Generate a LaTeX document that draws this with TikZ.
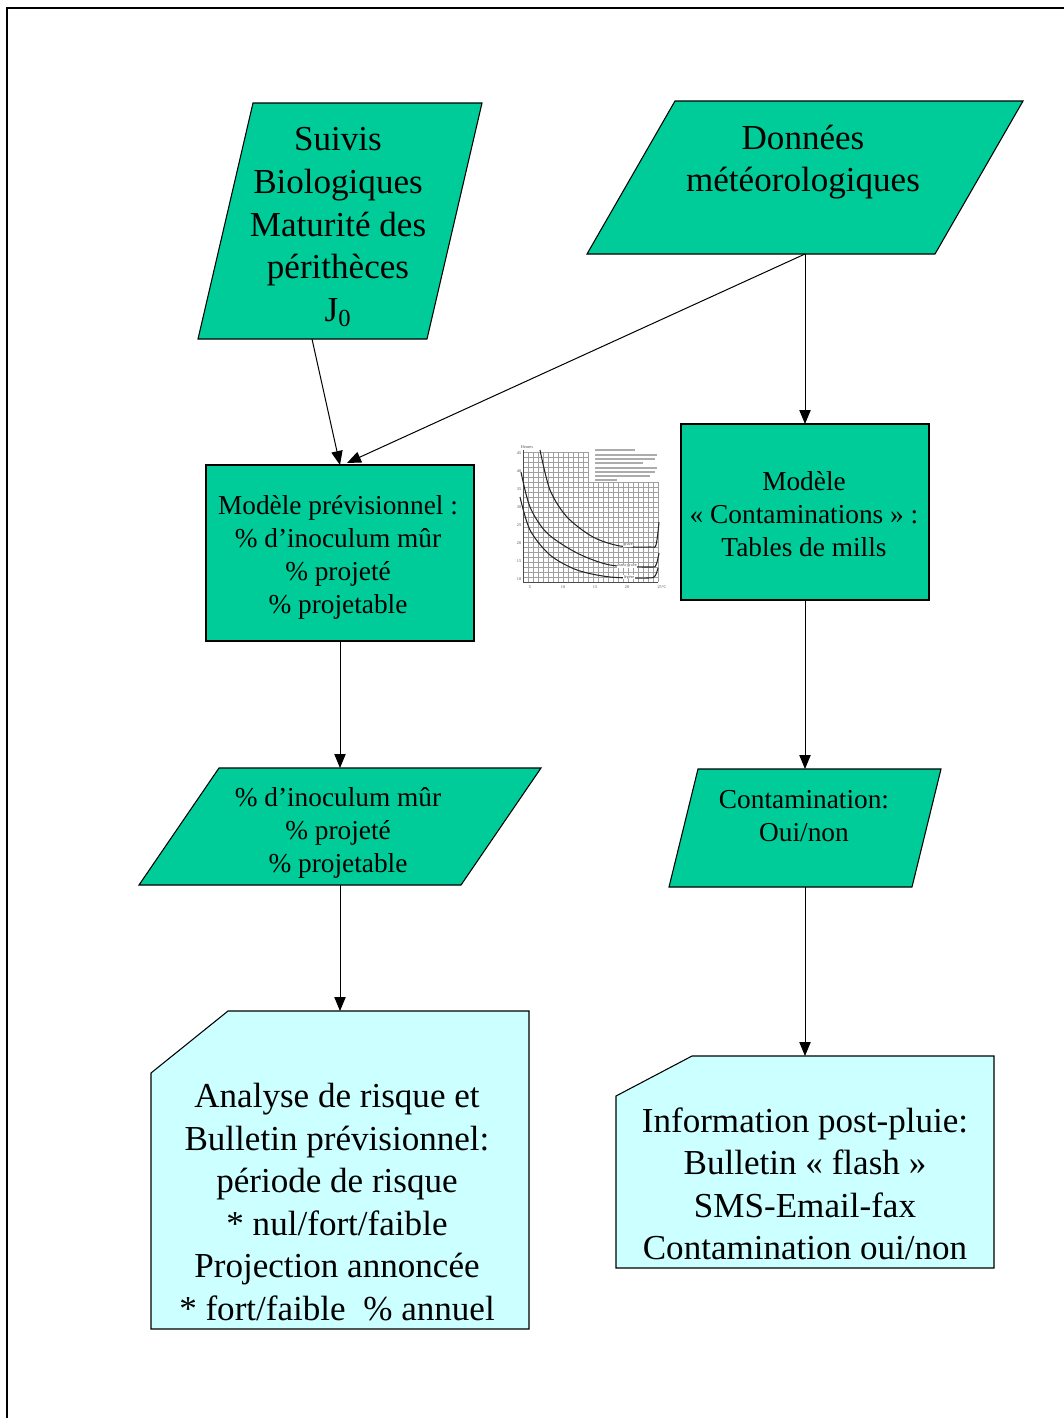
\documentclass[tikz,border=0pt]{standalone}
\usepackage{fontspec}
\setmainfont{Liberation Serif}
\usetikzlibrary{arrows.meta}
\definecolor{boxgreen}{HTML}{00CC99}
\definecolor{boxcyan}{HTML}{CCFFFF}
\begin{document}
\begin{tikzpicture}[x=0.75pt,y=-0.75pt,
  shapegreen/.style={fill=boxgreen,draw=black,line width=0.8pt,line join=miter},
  shapecyan/.style={fill=boxcyan,draw=black,line width=0.8pt,line join=miter},
  bigtext/.style={align=center,inner sep=0pt,font=\fontsize{26.3pt}{31.9pt}\selectfont},
  medtext/.style={align=center,inner sep=0pt,font=\fontsize{20.5pt}{24.75pt}\selectfont},
  conn/.style={line width=0.75pt,-{Triangle[length=10.5pt,width=8.5pt]}},
  gridline/.style={draw=gray!75,line width=0.35pt},
  curveline/.style={draw=black!85,line width=0.8pt},
  tinytext/.style={inner sep=0pt,font=\fontsize{3.2pt}{3.6pt}\selectfont,text=black!70},
  ]
\useasboundingbox (0,0) rectangle (1064,1418);
\clip (0,0) rectangle (1064,1418);
% outer frame
\draw[line width=2.2pt] (7,1440) -- (7,8) -- (1090,8);

% ---- shapes ----
\path[shapegreen] (253,103) -- (482,103) -- (427,339) -- (198,339) -- cycle;
\path[shapegreen] (675,101) -- (1023,101) -- (935,254) -- (587,254) -- cycle;
\path[shapegreen] (206,465) rectangle (474,641);
\path[shapegreen] (681,424) rectangle (929,600);
\path[shapegreen] (219,768) -- (541,768) -- (461,885) -- (139,885) -- cycle;
\path[shapegreen] (698,769) -- (941,769) -- (912,887) -- (669,887) -- cycle;
\path[shapecyan] (151,1073) -- (228,1011) -- (529,1011) -- (529,1329) -- (151,1329) -- cycle;
\path[shapecyan] (616,1096) -- (692,1056) -- (994,1056) -- (994,1268) -- (616,1268) -- cycle;

% ---- texts ----
\node[bigtext] (suivis) at (338,227) {Suivis\\Biologiques\\Maturité des\\ périthèces\\J\textsubscript{0}};
\node[bigtext] (meteo) at (803,162) {Données\\météorologiques};
\node[medtext] (modprev) at (338,557) {Modèle prévisionnel :\\\% d’inoculum mûr\\\% projeté\\\% projetable};
\node[medtext] (modcont) at (804,514) {Modèle\\« Contaminations » :\\Tables de mills};
\node[medtext] (inoc) at (338,833) {\% d’inoculum mûr\\\% projeté\\\% projetable};
\node[medtext] (contam) at (804,816) {Contamination:\\Oui/non};
\node[bigtext] (analyse) at (337,1202) {Analyse de risque et\\Bulletin prévisionnel:\\période de risque\\* nul/fort/faible\\Projection annoncée\\* fort/faible~~\% annuel};
\node[bigtext] (info) at (805,1184) {Information post-pluie:\\Bulletin « flash »\\SMS-Email-fax\\Contamination oui/non};

% ---- connector anchors ----
\coordinate (suivisB) at (312,339);
\coordinate (meteoB) at (805,254);
\coordinate (modprevT) at (340,465);
\coordinate (modprevT2) at (347,463);
\coordinate (modprevB) at (340,641);
\coordinate (modcontT) at (805,424);
\coordinate (modcontB) at (805,600);
\coordinate (inocT) at (340,768);
\coordinate (inocB) at (340,885);
\coordinate (contamT) at (805,769);
\coordinate (contamB) at (805,887);
\coordinate (analyseT) at (340,1011);
\coordinate (infoT) at (805,1056);

\draw[conn] (suivisB) -- (modprevT);
\draw[conn] (meteoB) -- (modprevT2);
\draw[conn] (meteoB) -- (modcontT);
\draw[conn] (modprevB) -- (inocT);
\draw[conn] (modcontB) -- (contamT);
\draw[conn] (inocB) -- (analyseT);
\draw[conn] (contamB) -- (infoT);

% ---- small chart (Mills table) ----
\foreach \gx in {523,528,...,588} \draw[gridline] (\gx,452) -- (\gx,582);
\foreach \gx in {593,598,...,658} \draw[gridline] (\gx,482) -- (\gx,582);
\foreach \gy in {452,457,...,477} \draw[gridline] (523,\gy) -- (588,\gy);
\foreach \gy in {482,487,...,582} \draw[gridline] (523,\gy) -- (658,\gy);
\draw[line width=0.5pt,black!70] (523,450) -- (523,582) -- (658,582);
\draw[curveline] plot[smooth] coordinates {(540,450) (550,490) (567,517) (593,537) (620,546) (650,547) (656,545) (659,522)};
\draw[curveline] plot[smooth] coordinates {(521,472) (530,507) (547,533) (577,553) (610,565) (650,567) (656,565) (659,553)};
\draw[curveline] plot[smooth] coordinates {(520,497) (530,530) (550,555) (577,570) (610,577) (648,578) (655,576) (658,568)};
\node[tinytext] (heures) at (527,447) {Heures};
\foreach \ty/\tl in {453/45,471/40,489/35,507/30,525/25,543/20,561/15,579/10}
  \node[tinytext] (tk\tl) at (519,\ty) {\tl};
\foreach \tx/\tl in {530/5,563/10,595/15,627/20}
  \node[tinytext] (xt\tl) at (\tx,587) {\tl};
\node[tinytext] (xt25) at (662,587) {25°C};
\node[tinytext,fill=white,inner sep=0.3pt] (lgrave) at (628,545) {grave};
\node[tinytext,fill=white,inner sep=0.3pt] (lassez) at (627,566) {assez grave};
\node[tinytext,fill=white,inner sep=0.3pt] (lleg) at (629,577) {légère};
% blurred caption block of the scanned figure
\foreach \by/\bl in {450/40,455/62,459/60,463/48,468/62,472/60,476/55,480/22}
  \draw[gray!65,line width=1.1pt] (595,\by) -- ++(\bl,0);
\end{tikzpicture}
\end{document}
